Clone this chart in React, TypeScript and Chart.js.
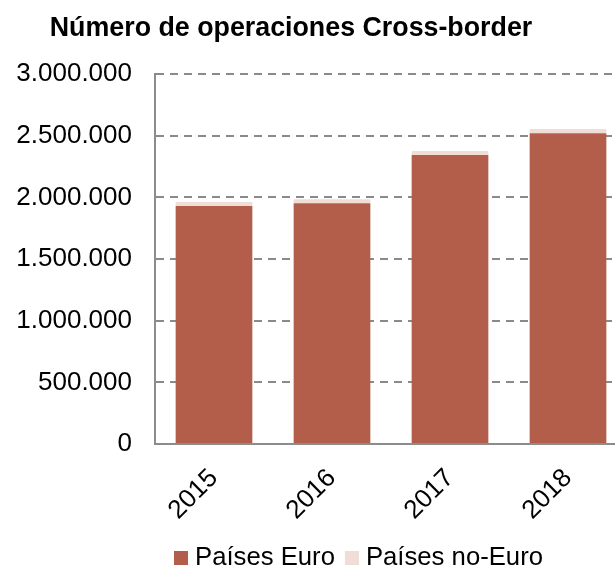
import React, { useEffect, useRef } from "react";
import { Chart, registerables } from "chart.js";

Chart.register(...registerables);

const title = "Número de operaciones Cross-border";
const years = ["2015", "2016", "2017", "2018"];
const paisesEuro = [1930000, 1952000, 2344000, 2520000];
const paisesNoEuro = [33000, 33000, 32000, 35000];
const seriesNames = ["Países Euro", "Países no-Euro"];
const seriesColors = ["#B35E4A", "#EFDDD6"];
const yTicks = [0, 500000, 1000000, 1500000, 2000000, 2500000, 3000000];

const FONT = "'Liberation Sans', Arial, Helvetica, sans-serif";

function fmt(v: number): string {
  return String(Math.round(v)).replace(/\B(?=(\d{3})+(?!\d))/g, ".");
}

const titlePlugin = {
  id: "customTitle",
  afterDraw(chart: any) {
    const ctx = chart.ctx;
    ctx.save();
    ctx.font = `bold 26.8px ${FONT}`;
    ctx.fillStyle = "#000";
    ctx.textAlign = "center";
    ctx.textBaseline = "middle";
    ctx.fillText(title, 291, 29);
    ctx.restore();
  },
};

const legendPlugin = {
  id: "customLegend",
  afterDraw(chart: any) {
    const ctx = chart.ctx;
    ctx.save();
    ctx.font = `25.7px ${FONT}`;
    ctx.textBaseline = "middle";
    ctx.textAlign = "left";
    let x = 174;
    const y = 558;
    chart.data.datasets.forEach((ds: any) => {
      ctx.fillStyle = ds.backgroundColor;
      ctx.fillRect(x, y - 7, 14, 14);
      x += 21;
      ctx.fillStyle = "#000";
      ctx.fillText(ds.label, x, y);
      x += ctx.measureText(ds.label).width + 10;
    });
    ctx.restore();
  },
};

export default function App() {
  const ref = useRef<HTMLCanvasElement | null>(null);

  useEffect(() => {
    if (!ref.current) return;
    const chart = new Chart(ref.current, {
      type: "bar",
      data: {
        labels: years,
        datasets: [
          {
            label: seriesNames[0],
            data: paisesEuro,
            backgroundColor: seriesColors[0],
            barPercentage: 0.65,
            categoryPercentage: 1,
          },
          {
            label: seriesNames[1],
            data: paisesNoEuro,
            backgroundColor: seriesColors[1],
            barPercentage: 0.65,
            categoryPercentage: 1,
          },
        ],
      },
      options: {
        animation: false,
        responsive: false,
        maintainAspectRatio: false,
        layout: { padding: { top: 74, left: 12, right: 0, bottom: 44 } },
        plugins: {
          legend: { display: false },
          title: { display: false },
          tooltip: { enabled: false },
        },
        scales: {
          x: {
            stacked: true,
            afterFit: (s: any) => {
              s.height = 80;
            },
            grid: { display: false, drawTicks: false },
            border: { display: true, color: "#8c8c8c", width: 2 },
            ticks: {
              minRotation: 45,
              maxRotation: 45,
              padding: 19,
              color: "#000",
              font: { family: FONT, size: 26 },
            },
          },
          y: {
            stacked: true,
            min: 0,
            max: 3000000,
            afterFit: (s: any) => {
              s.width = 143;
            },
            afterBuildTicks: (s: any) => {
              s.ticks = yTicks.map((v) => ({ value: v }));
            },
            grid: {
              drawTicks: false,
              color: "#8a8a8a",
              lineWidth: 2,
            },
            border: { display: true, color: "#8c8c8c", width: 2, dash: [8, 6] },
            ticks: {
              padding: 23,
              color: "#000",
              font: { family: FONT, size: 26 },
              callback: (v: any) => fmt(Number(v)),
            },
          },
        },
      } as any,
      plugins: [titlePlugin, legendPlugin],
    });
    return () => chart.destroy();
  }, []);

  return (
    <div
      style={{
        position: "absolute",
        left: 0,
        top: 0,
        width: 615,
        height: 568,
        overflow: "hidden",
        background: "#fff",
      }}
    >
      <canvas ref={ref} width={627} height={568} style={{ display: "block" }} />
    </div>
  );
}
